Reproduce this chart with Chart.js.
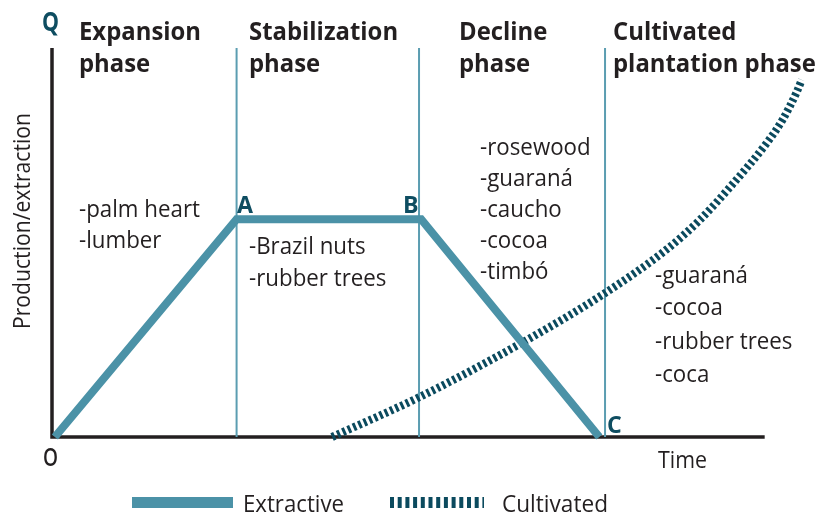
<!DOCTYPE html>
<html>
<head>
<meta charset="utf-8">
<script src="https://cdn.jsdelivr.net/npm/chart.js@4"></script>
<style>
html,body{margin:0;padding:0;background:#fff;}
#wrap{width:822px;height:516px;}
</style>
</head>
<body>
<div id="wrap"><canvas id="c" width="822" height="516"></canvas></div>
<script>
// ---- data ----
const extractiveTime = [0.4, 25.9, 51.8, 76.8];
const extractiveQty  = [0, 56, 56, 0];
const cultivatedTime = [39.3, 51.6, 66.6, 77.6, 86.3, 90.9, 95.5, 100.3, 102.5, 104.5, 105.2];
const cultivatedQty  = [0, 10.3, 24.9, 37.0, 48.3, 55.8, 65.0, 75.6, 81.5, 88.7, 91.8];
const phaseBounds = [25.9, 51.5, 77.6];
const timeAxisEnd = 100;
const phaseNames = [["Expansion","phase"],["Stabilization","phase"],["Decline","phase"],["Cultivated","plantation phase"]];
const phaseProducts = [
  ["-palm heart","-lumber"],
  ["-Brazil nuts","-rubber trees"],
  ["-rosewood","-guaraná","-caucho","-cocoa","-timbó"],
  ["-guaraná","-cocoa","-rubber trees","-coca"]
];
const seriesNames = ["Extractive","Cultivated"];
const pointLabels = ["Q","A","B","C","O"];
const axisTitles = ["Production/extraction","Time"];

// ---- styles ----
const FONT = "'Open Sans','Noto Sans','DejaVu Sans',sans-serif";
const C_EXT = '#4b92a7';
const C_CULT = '#0b4a5e';
const C_PHASE = '#5b9db1';
const C_TXT = '#231f20';
const C_LBL = '#0e4d61';

const toPts = (xs, ys) => xs.map((x, i) => ({x, y: ys[i]}));

const datasets = [
  {label: seriesNames[0], data: toPts(extractiveTime, extractiveQty), borderColor: C_EXT, borderWidth: 8,
   pointRadius: 0, tension: 0, clip: false, borderJoinStyle: 'miter', borderCapStyle: 'butt'},
  {label: seriesNames[1], data: toPts(cultivatedTime, cultivatedQty), borderColor: C_CULT, borderWidth: 8,
   borderDash: [3, 2.8], pointRadius: 0, cubicInterpolationMode: 'monotone', clip: false, borderCapStyle: 'butt'}
];
phaseBounds.forEach(b => datasets.push({
  label: 'phase', data: [{x: b, y: 0}, {x: b, y: 100}], borderColor: C_PHASE, borderWidth: 2,
  pointRadius: 0, clip: false
}));

function drawText(ctx, s, x, y, opt) {
  ctx.save();
  ctx.font = opt.font;
  ctx.fillStyle = opt.color || C_TXT;
  ctx.textBaseline = 'alphabetic';
  ctx.textAlign = 'left';
  const m = ctx.measureText(s).width;
  let sx = opt.w ? opt.w / m : (opt.k || 1);
  ctx.translate(x, y);
  if (opt.rot) ctx.rotate(opt.rot);
  ctx.scale(sx, 1);
  ctx.fillText(s, opt.center ? -m / 2 : 0, 0);
  ctx.restore();
}
function factor(ctx, font, s, w) { ctx.save(); ctx.font = font; const m = ctx.measureText(s).width; ctx.restore(); return w / m; }

const overlay = {
  id: 'overlay',
  beforeDatasetsDraw(chart) {
    const {ctx, scales: {x, y}} = chart;
    ctx.save();
    ctx.strokeStyle = C_TXT;
    ctx.lineWidth = 3.5;
    ctx.lineCap = 'butt';
    const x0 = x.getPixelForValue(0), y0 = y.getPixelForValue(0);
    ctx.beginPath();
    ctx.moveTo(x0, y.getPixelForValue(100));
    ctx.lineTo(x0, y0);
    ctx.lineTo(x.getPixelForValue(timeAxisEnd), y0);
    ctx.stroke();
    ctx.restore();
  },
  afterDraw(chart) {
    const {ctx} = chart;
    const bold = '700 25px ' + FONT;
    const reg = '400 23px ' + FONT;
    const kb = factor(ctx, bold, 'Expansion', 122);
    const kr = factor(ctx, reg, '-palm heart', 121);
    // phase titles
    const titleX = [79, 249, 459, 613];
    phaseNames.forEach((lines, i) => lines.forEach((t, j) =>
      drawText(ctx, t, titleX[i], 40 + j * 32, {font: bold, k: kb})));
    // products
    const prodX = [79, 249, 480, 655];
    const prodY = [[217, 248], [254, 286], [155, 186, 217, 248, 279], [283, 315, 349, 382]];
    phaseProducts.forEach((lines, i) => lines.forEach((t, j) =>
      drawText(ctx, t, prodX[i], prodY[i][j], {font: reg, k: kr})));
    // point labels
    const lb = '700 24px ' + FONT;
    const kl = factor(ctx, lb, 'A', 16);
    drawText(ctx, pointLabels[0], 42, 31, {font: '700 26px ' + FONT, color: C_LBL, w: 17});
    drawText(ctx, pointLabels[1], 237, 213, {font: lb, color: C_LBL, k: kl});
    drawText(ctx, pointLabels[2], 403, 213, {font: lb, color: C_LBL, k: kl});
    drawText(ctx, pointLabels[3], 607, 433, {font: lb, color: C_LBL, k: kl});
    drawText(ctx, pointLabels[4], 43, 466, {font: '600 26px ' + FONT, color: C_TXT, w: 15});
    // axis titles
    drawText(ctx, axisTitles[0], 30, 221, {font: '400 24px ' + FONT, rot: -Math.PI / 2, center: true, w: 216});
    drawText(ctx, axisTitles[1], 658, 468, {font: reg, w: 49});
    // legend
    ctx.save();
    ctx.fillStyle = C_EXT;
    ctx.fillRect(132, 497, 101, 11);
    ctx.strokeStyle = C_CULT;
    ctx.lineWidth = 11;
    ctx.setLineDash([4, 3.7]);
    ctx.beginPath();
    ctx.moveTo(390, 502.5);
    ctx.lineTo(484, 502.5);
    ctx.stroke();
    ctx.restore();
    const lg = '400 24px ' + FONT;
    drawText(ctx, seriesNames[0], 243, 512, {font: lg, w: 101});
    drawText(ctx, seriesNames[1], 502, 512, {font: lg, w: 106});
  }
};

new Chart(document.getElementById('c'), {
  type: 'line',
  data: {datasets},
  options: {
    responsive: false,
    animation: false,
    layout: {padding: {left: 52, right: 11, top: 48, bottom: 79}},
    plugins: {legend: {display: false}, tooltip: {enabled: false}},
    scales: {
      x: {type: 'linear', min: 0, max: 106.5, display: false},
      y: {min: 0, max: 100, display: false}
    }
  },
  plugins: [overlay]
});
</script>
</body>
</html>
